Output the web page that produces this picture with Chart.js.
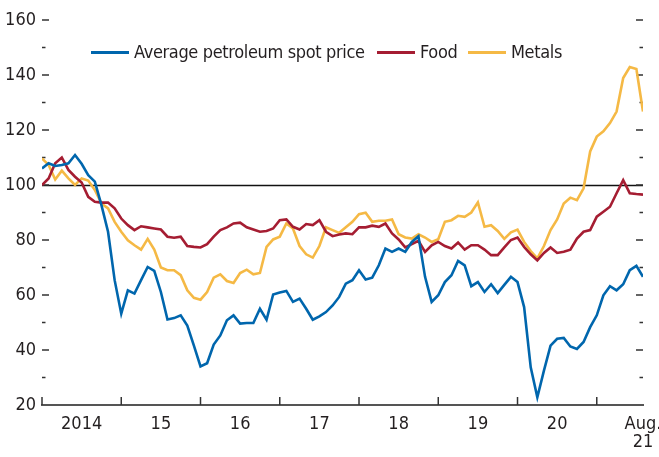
<!DOCTYPE html>
<html>
<head>
<meta charset="utf-8">
<script src="https://cdn.jsdelivr.net/npm/chart.js@4.4.1/dist/chart.umd.min.js"></script>
<style>
  html, body { margin: 0; padding: 0; background: #fff; }
  #wrap { position: relative; width: 659px; height: 457px; }
  #legend { position: absolute; left: 0; top: 0; width: 659px; height: 0;
    font-family: 'Liberation Sans Narrow', 'DejaVu Sans Condensed', 'Arial Narrow', sans-serif;
    font-size: 18px; letter-spacing: -0.35px; color: #231f20; }
  .item { position: absolute; top: 41px; display: flex; align-items: center; white-space: nowrap; line-height: 22px; }
  .swatch { width: 38px; height: 3px; margin-right: 5px; }
</style>
</head>
<body>
<div id="wrap">
  <canvas id="chart" width="659" height="457"></canvas>
  <div id="legend"></div>
</div>
<script>
// ---- data (monthly, Jan 2014 = index 0 ... Aug 2021 = index 91) ----
const petroleum = [
  106, 107.9, 106.9, 107.3, 107.9, 110.9, 107.7, 103.6, 101.2, 92.7, 83, 65.4,
  53.2, 61.7, 60.5, 65.4, 70.2, 68.8, 61.1, 51.1, 51.6, 52.6, 48.9, 41.6,
  34, 35.2, 42, 45.3, 50.8, 52.6, 49.6, 49.8, 49.8, 55, 51, 60.2,
  60.9, 61.5, 57.5, 58.7, 55, 51, 52.2, 53.8, 56.2, 59.3, 64.1, 65.4,
  69, 65.6, 66.3, 70.8, 76.9, 75.7, 76.9, 75.7, 79.3, 81.4, 66.6, 57.5,
  59.9, 64.7, 67.2, 72.4, 70.8, 63.2, 64.7, 61.1, 63.9, 60.7, 63.7, 66.6,
  64.7, 55.6, 33.7, 22.8, 32.5, 41.6, 44.1, 44.4, 41.3, 40.4, 42.9, 48.3,
  52.6, 59.9, 63.2, 61.7, 63.9, 69, 70.6, 66.6
];
const food = [
  100, 102.4, 107.9, 110, 105.5, 103, 100.9, 95.7, 93.9, 93.6, 93.6, 91.5,
  87.8, 85.4, 83.6, 85, 84.6, 84.2, 83.8, 81.2, 80.8, 81.2, 77.8, 77.5,
  77.3, 78.5, 81.2, 83.6, 84.6, 86, 86.3, 84.6, 83.8, 83, 83.3, 84.2,
  87.2, 87.5, 84.8, 83.8, 85.8, 85.4, 87.2, 83, 81.4, 82, 82.4, 82.1,
  84.6, 84.6, 85.2, 84.8, 86, 82.4, 80.2, 77.3, 78.5, 79.7, 75.7, 78.1,
  79.3, 77.8, 76.9, 79.1, 76.5, 78.1, 78.1, 76.5, 74.5, 74.5, 77.3, 80,
  80.9, 77.5, 74.8, 72.6, 75.3, 77.3, 75.3, 75.7, 76.5, 80.5, 83, 83.6,
  88.5, 90.3, 92.1, 97, 101.8, 97, 96.7, 96.5
];
const metals = [
  109.7, 107.3, 102, 105.2, 102.4, 100, 102.4, 101.6, 98.2, 93.3, 91.5, 86.6,
  83, 79.9, 78.1, 76.5, 80.4, 76.5, 70, 69, 69, 67.2, 61.7, 59,
  58.3, 61.1, 66.3, 67.5, 65.1, 64.4, 68, 69.2, 67.5, 68, 77.5, 80.2,
  81.2, 86, 84.2, 77.8, 74.8, 73.6, 77.8, 84.6, 83.6, 82.6, 84.6, 86.6,
  89.4, 89.9, 86.6, 87, 87, 87.5, 82.1, 80.9, 80.5, 82.1, 80.9, 79.3,
  80.3, 86.6, 87.2, 88.8, 88.4, 90, 93.7, 84.8, 85.4, 83.3, 80.4, 82.8,
  83.8, 79.3, 76, 73.3, 77.8, 83.6, 87.5, 93.3, 95.4, 94.5, 98.8, 112.2,
  117.6, 119.5, 122.5, 126.7, 138.9, 142.9, 142.2, 126.7
];
const seriesNames = ['Average petroleum spot price', 'Food', 'Metals'];
const seriesColors = ['#0066ad', '#a51d32', '#f5b945'];

const xLabelPos = [6, 18, 30, 42, 54, 66, 78, 91];
const xLabels = ['2014', '15', '16', '17', '18', '19', '20', ['Aug.', '21']];
const yearStarts = [0, 12, 24, 36, 48, 60, 72, 84];
const yLabelValues = [20, 40, 60, 80, 100, 120, 140, 160];

const FONT = "'Liberation Sans Narrow', 'DejaVu Sans Condensed', 'Arial Narrow', sans-serif";
const INK = '#231f20';

// tick marks drawn inside the plot + reference line at 100
const frame = {
  id: 'frame',
  beforeDatasetsDraw(chart) {
    const { ctx, chartArea: a, scales: { x, y } } = chart;
    ctx.save();
    ctx.strokeStyle = '#111';
    ctx.lineWidth = 1.3;
    const y100 = Math.round(y.getPixelForValue(100)) + 0.5;
    ctx.beginPath(); ctx.moveTo(a.left, y100); ctx.lineTo(a.right, y100); ctx.stroke();

    ctx.strokeStyle = '#333';
    ctx.lineWidth = 1.5;
    for (let v = 30; v <= 160; v += 10) {
      const py = y.getPixelForValue(v);
      const len = v % 20 === 0 ? 7 : 3.5;
      ctx.beginPath();
      ctx.moveTo(a.left, py); ctx.lineTo(a.left + len, py);
      ctx.moveTo(a.right, py); ctx.lineTo(a.right - len, py);
      ctx.stroke();
    }
    yearStarts.forEach(i => {
      const px = x.getPixelForValue(i);
      ctx.beginPath(); ctx.moveTo(px, a.bottom); ctx.lineTo(px, a.bottom - 8); ctx.stroke();
    });
    ctx.restore();
  }
};

const idx = petroleum.map((_, i) => i);
const datasets = [petroleum, food, metals].map((arr, k) => ({
  label: seriesNames[k],
  data: arr.map((v, i) => ({ x: idx[i], y: v })),
  borderColor: seriesColors[k],
  borderWidth: 2.6,
  pointRadius: 0,
  tension: 0,
  fill: false,
}));

new Chart(document.getElementById('chart'), {
  type: 'line',
  data: { datasets },
  options: {
    responsive: false,
    animation: false,
    layout: { padding: { top: 20, right: 16, left: 0, bottom: 0 } },
    plugins: { legend: { display: false }, tooltip: { enabled: false } },
    scales: {
      x: {
        type: 'linear', min: 0, max: 91,
        afterBuildTicks: s => { s.ticks = xLabelPos.map(v => ({ value: v })); },
        afterFit: s => { s.height = 52; s.paddingLeft = 0; s.paddingRight = 0; },
        grid: { display: false, drawTicks: false },
        border: { display: true, color: '#555', width: 2 },
        ticks: {
          autoSkip: false, maxRotation: 0, padding: 10, color: INK,
          font: { family: FONT, size: 18, lineHeight: 1 },
          callback: (v, i) => xLabels[i]
        }
      },
      y: {
        min: 20, max: 160,
        afterBuildTicks: s => { s.ticks = yLabelValues.map(v => ({ value: v })); },
        afterFit: s => { s.width = 42; },
        grid: { display: false, drawTicks: false },
        border: { display: false },
        ticks: {
          padding: 6, color: INK,
          font: { family: FONT, size: 18 },
          callback: v => String(v)
        }
      }
    }
  },
  plugins: [frame]
});

// legend overlay
const legendLeft = [91, 377, 468];
const legend = document.getElementById('legend');
seriesNames.forEach((name, k) => {
  const item = document.createElement('div');
  item.className = 'item';
  item.style.left = legendLeft[k] + 'px';
  item.innerHTML = '<div class="swatch" style="background:' + seriesColors[k] + '"></div><span>' + name + '</span>';
  legend.appendChild(item);
});
</script>
</body>
</html>
